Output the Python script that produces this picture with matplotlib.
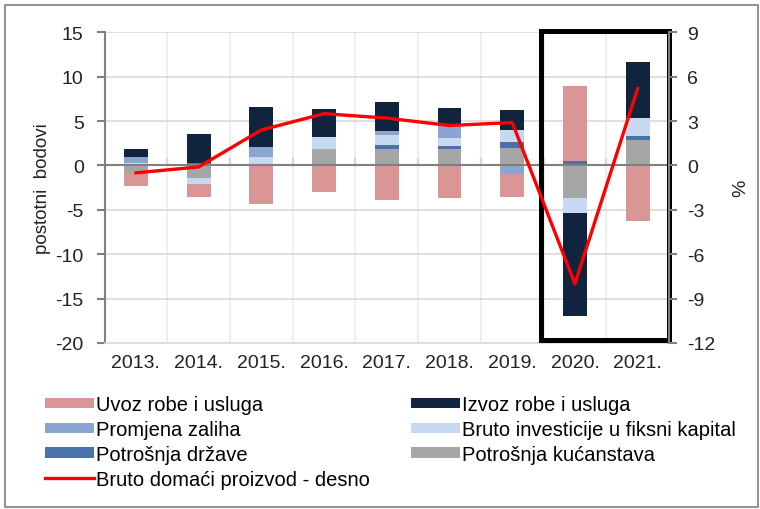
import numpy as np
import matplotlib.pyplot as plt
from matplotlib.patches import Rectangle

plt.rcParams['font.family'] = ['Liberation Sans', 'DejaVu Sans']
plt.rcParams['axes.unicode_minus'] = False

years = ['2013.', '2014.', '2015.', '2016.', '2017.', '2018.', '2019.', '2020.', '2021.']

# doprinosi rastu BDP-a, postotni bodovi
kucanstva = [-0.9, -1.4, 0.0, 1.9, 1.9, 1.9, 2.0, -3.7, 2.9]
drzava = [0.0, 0.3, 0.0, 0.0, 0.4, 0.3, 0.6, 0.45, 0.4]
investicije = [0.3, -0.7, 0.9, 1.3, 1.1, 0.9, 1.4, -1.6, 2.0]
zalihe = [0.6, 0.0, 1.2, 0.0, 0.5, 1.4, -1.0, 0.0, 0.0]
izvoz = [0.9, 3.2, 4.5, 3.2, 3.2, 2.0, 2.3, -11.7, 6.3]
uvoz = [-1.4, -1.4, -4.3, -3.0, -3.9, -3.65, -2.5, 8.5, -6.3]
# BDP, % (desna os)
bdp = [-0.5, -0.1, 2.4, 3.5, 3.2, 2.7, 2.9, -8.0, 5.2]

series = [
    ('Potrošnja kućanstava', kucanstva, '#a6a6a6'),
    ('Potrošnja države', drzava, '#4a72aa'),
    ('Bruto investicije u fiksni kapital', investicije, '#c6d9f1'),
    ('Promjena zaliha', zalihe, '#8aa5d0'),
    ('Izvoz robe i usluga', izvoz, '#10243e'),
    ('Uvoz robe i usluga', uvoz, '#da9694'),
]

fig = plt.figure(figsize=(7.6, 5.1), dpi=100)
ax = fig.add_axes([0.1376, 0.3255, 0.7427, 0.6092])
x = np.arange(len(years))

pos = np.zeros(len(years))
neg = np.zeros(len(years))
handles = {}
for name, vals, col in series:
    v = np.array(vals, dtype=float)
    bottom = np.where(v >= 0, pos, neg)
    b = ax.bar(x, v, 0.38, bottom=bottom, color=col, zorder=3)
    handles[name] = b
    pos = pos + np.where(v >= 0, v, 0)
    neg = neg + np.where(v < 0, v, 0)

ax.set_xlim(-0.5, 8.5)
ax.set_ylim(-20, 15)
ax.set_yticks(np.arange(-20, 16, 5))
ax.set_xticks(x)
ax.set_xticklabels(years)
ax.set_xticks(np.arange(0.5, 8.5, 1), minor=True)
ax.tick_params(axis='x', which='both', length=0, labelsize=14, pad=8, colors='#222222')
ax.tick_params(axis='y', direction='out', length=6, width=1.5, color='#808080',
               labelsize=14, pad=9, labelcolor='#222222')
ax.grid(axis='y', color='#d9d9d9', lw=1.2, zorder=0)
ax.grid(axis='x', which='minor', color='#ebebeb', lw=1.2, zorder=0)
ax.spines['top'].set_visible(False)
ax.spines['right'].set_visible(False)
ax.spines['bottom'].set_color('#d9d9d9')
ax.spines['bottom'].set_linewidth(1.2)
ax.spines['left'].set_color('#808080')
ax.spines['left'].set_linewidth(1.5)
ax.set_ylabel('postotni  bodovi', fontsize=13.5, labelpad=3, color='#222222')

# nulta linija s kvačicama
ax.axhline(0, color='#808080', lw=1.5, zorder=4)
sec = ax.secondary_xaxis(20 / 35)
sec.set_xticks(np.arange(0.5, 8.5, 1))
sec.set_xticklabels([])
sec.tick_params(direction='out', length=5, width=1.5, color='#707070')
sec.spines['bottom'].set_visible(False)
sec.spines['top'].set_visible(False)

ax2 = ax.twinx()
ax2.set_ylim(-12, 9)
ax2.set_yticks(np.arange(-12, 10, 3))
ax2.tick_params(axis='y', direction='out', length=6, width=1.5, color='#808080',
                labelsize=14, pad=7, labelcolor='#222222')
for s in ['top', 'left', 'bottom']:
    ax2.spines[s].set_visible(False)
ax2.spines['right'].set_color('#808080')
ax2.spines['right'].set_linewidth(1.5)
ax2.set_ylabel('%', fontsize=14, labelpad=12, color='#222222')
line, = ax2.plot(x, bdp, color='#ff0000', lw=2.4, zorder=5)

# okvir oko 2020. i 2021.
ax.add_patch(Rectangle((6.46, -19.65), 2.04, 34.83, fill=False, edgecolor='black',
                       lw=3.6, clip_on=False, zorder=6))

order = ['Uvoz robe i usluga', 'Promjena zaliha', 'Potrošnja države', None,
         'Izvoz robe i usluga', 'Bruto investicije u fiksni kapital', 'Potrošnja kućanstava']
leg_h = []
leg_l = []
for n in order:
    if n is None:
        leg_h.append(line)
        leg_l.append('Bruto domaći proizvod - desno')
    else:
        leg_h.append(handles[n])
        leg_l.append(n)
fig.legend(leg_h, leg_l, ncol=2, loc='upper left', bbox_to_anchor=(45 / 760, 1 - 396 / 510),
           frameon=False, fontsize=14.5, handlelength=2.45, handleheight=0.4,
           handletextpad=0.1, columnspacing=2.0, labelspacing=0.29, borderpad=0,
           borderaxespad=0)

# vanjski okvir slike
fig.add_artist(Rectangle((5 / 760, 2 / 510), 753 / 760, 502 / 510, transform=fig.transFigure,
                         fill=False, edgecolor='#7f7f7f', lw=1.2))

fig.savefig('out.png', dpi=100)
